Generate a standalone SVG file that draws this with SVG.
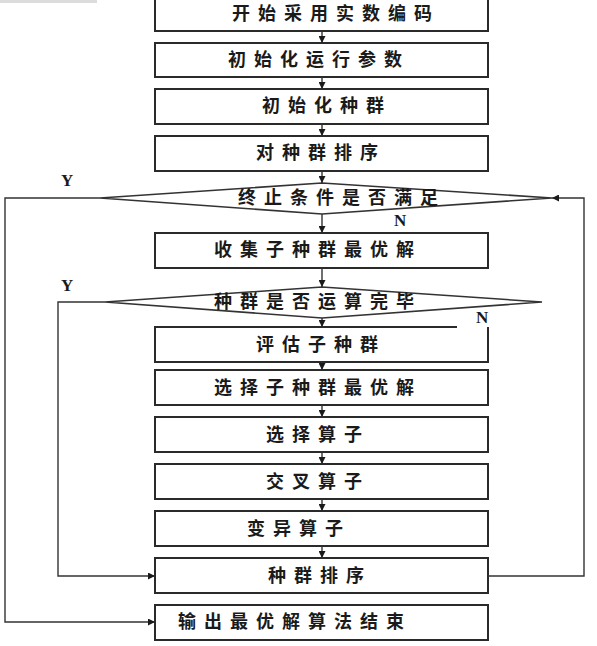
<svg xmlns="http://www.w3.org/2000/svg" width="597" height="646" viewBox="0 0 597 646">
<style>
.box{fill:#fff;stroke:#2a2a2a;stroke-width:2}
.dia{fill:#fff;stroke:#333;stroke-width:1.6}
.t{font-family:"Noto Sans CJK SC","Noto Sans CJK JP",sans-serif;font-size:18px;font-weight:bold;fill:#1a1a1a;letter-spacing:8px}
.lbl{font-family:"Liberation Serif",serif;font-size:17px;font-weight:bold;fill:#1a1a1a}
.c{fill:none;stroke:#333;stroke-width:1.4}
</style>
<defs>
<marker id="ah" viewBox="0 0 10 10" refX="10" refY="5" markerWidth="7" markerHeight="7" markerUnits="userSpaceOnUse" orient="auto">
<path d="M0,0 L10,5 L0,10 z" fill="#1a1a1a"/>
</marker>
</defs>
<rect width="597" height="646" fill="#fff"/>
<rect x="0" y="0" width="97" height="3" fill="#dcdcdc"/>

<g id="n1"><rect class="box" x="155" y="-4" width="333" height="35"/><text class="t" x="232" y="20">开始采用实数编码</text></g>
<g id="n2"><rect class="box" x="155" y="43" width="333" height="34"/><text class="t" x="228" y="66">初始化运行参数</text></g>
<g id="n3"><rect class="box" x="155" y="89" width="333" height="35"/><text class="t" x="262" y="112">初始化种群</text></g>
<g id="n4"><rect class="box" x="155" y="136" width="333" height="35"/><text class="t" x="256" y="159">对种群排序</text></g>
<g id="d1"><polygon class="dia" points="322,183 552,198 322,214 100,198"/><text class="t" x="238" y="204">终止条件是否满足</text></g>
<g id="n5"><rect class="box" x="155" y="233" width="333" height="35"/><text class="t" x="214" y="256">收集子种群最优解</text></g>
<g id="d2"><polygon class="dia" points="322,287 542,302 322,318 105,302"/><text class="t" x="214" y="308">种群是否运算完毕</text></g>
<g id="n6"><path class="box" d="M457,327 H155 V362 H488 V327"/><text class="t" x="256" y="351">评估子种群</text></g>
<g id="n7"><rect class="box" x="155" y="370" width="333" height="35"/><text class="t" x="214" y="394">选择子种群最优解</text></g>
<g id="n8"><rect class="box" x="155" y="417" width="333" height="35"/><text class="t" x="266" y="441">选择算子</text></g>
<g id="n9"><rect class="box" x="155" y="464" width="333" height="35"/><text class="t" x="266" y="488">交叉算子</text></g>
<g id="n10"><rect class="box" x="155" y="511" width="333" height="35"/><text class="t" x="247" y="535">变异算子</text></g>
<g id="n11"><rect class="box" x="155" y="558" width="333" height="35"/><text class="t" x="268" y="582">种群排序</text></g>
<g id="n12"><rect class="box" x="155" y="605" width="333" height="35"/><text class="t" x="178" y="628">输出最优解算法结束</text></g>

<g id="connectors">
<line class="c" x1="322" y1="31" x2="322" y2="43" marker-end="url(#ah)"/>
<line class="c" x1="322" y1="77" x2="322" y2="89" marker-end="url(#ah)"/>
<line class="c" x1="322" y1="124" x2="322" y2="136" marker-end="url(#ah)"/>
<line class="c" x1="322" y1="171" x2="322" y2="183" marker-end="url(#ah)"/>
<line class="c" x1="322" y1="214" x2="322" y2="233" marker-end="url(#ah)"/>
<line class="c" x1="322" y1="268" x2="322" y2="287" marker-end="url(#ah)"/>
<line class="c" x1="322" y1="318" x2="322" y2="327" marker-end="url(#ah)"/>
<line class="c" x1="322" y1="362" x2="322" y2="370" marker-end="url(#ah)"/>
<line class="c" x1="322" y1="405" x2="322" y2="417" marker-end="url(#ah)"/>
<line class="c" x1="322" y1="452" x2="322" y2="464" marker-end="url(#ah)"/>
<line class="c" x1="322" y1="499" x2="322" y2="511" marker-end="url(#ah)"/>
<line class="c" x1="322" y1="546" x2="322" y2="558" marker-end="url(#ah)"/>
<polyline class="c" points="100,198 5,198 5,622 155,622" marker-end="url(#ah)"/>
<polyline class="c" points="105,302 58,302 58,576 155,576" marker-end="url(#ah)"/>
<polyline class="c" points="488,576 584,576 584,198 552,198" marker-end="url(#ah)"/>
<text class="lbl" x="61" y="186">Y</text>
<text class="lbl" x="394" y="226">N</text>
<text class="lbl" x="61" y="291">Y</text>
<text class="lbl" x="476" y="323">N</text>
</g>
</svg>
